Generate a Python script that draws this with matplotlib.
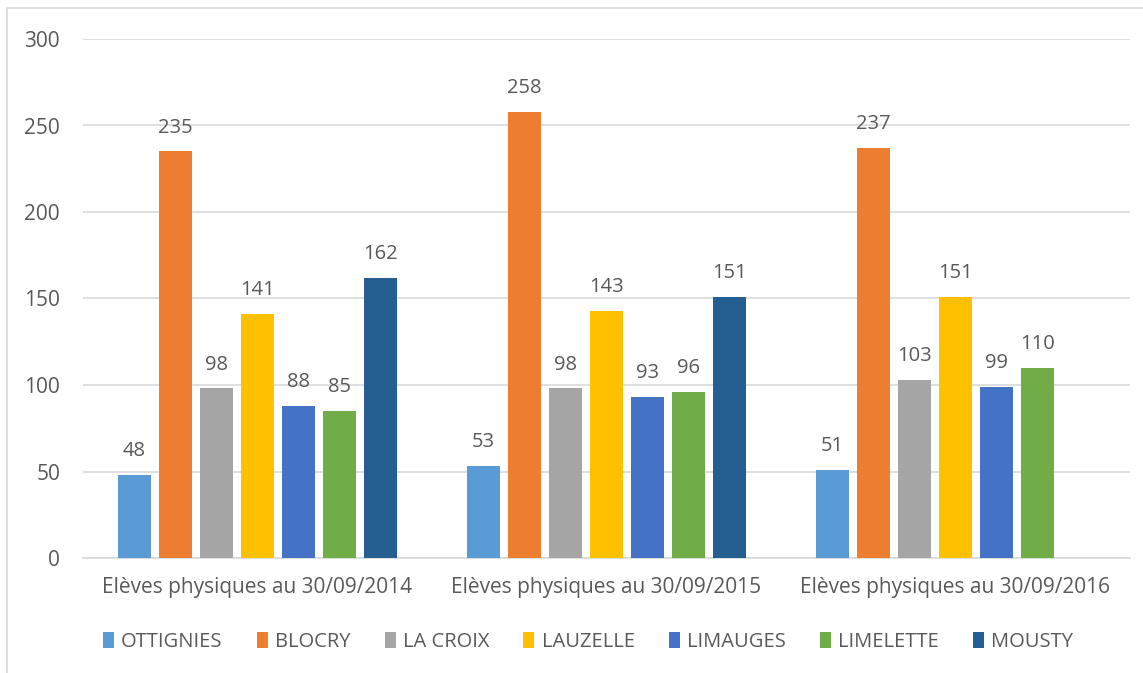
import matplotlib
matplotlib.use("Agg")
import matplotlib.pyplot as plt
import numpy as np
from matplotlib.patches import Patch

categories = ["Elèves physiques au 30/09/2014", "Elèves physiques au 30/09/2015", "Elèves physiques au 30/09/2016"]
series_names = ["OTTIGNIES", "BLOCRY", "LA CROIX", "LAUZELLE", "LIMAUGES", "LIMELETTE", "MOUSTY"]
ottignies = [48, 53, 51]
blocry = [235, 258, 237]
la_croix = [98, 98, 103]
lauzelle = [141, 143, 151]
limauges = [88, 93, 99]
limelette = [85, 96, 110]
mousty = [162, 151, None]
colors = ["#5B9BD5", "#ED7D31", "#A5A5A5", "#FFC000", "#4472C4", "#70AD47", "#255E91"]
yticks = [0, 50, 100, 150, 200, 250, 300]

all_series = [ottignies, blocry, la_croix, lauzelle, limauges, limelette, mousty]

plt.rcParams['font.family'] = ['Open Sans', 'DejaVu Sans']
txt = "#595959"

fig = plt.figure(figsize=(11.43, 6.73), dpi=100)
ax = fig.add_axes([83/1143, 1-558/673, (1130-83)/1143, (558-39)/673])

x = np.arange(len(categories))
step = 0.1175
width = 0.094
for i, (vals, c) in enumerate(zip(all_series, colors)):
    off = (i - 3) * step
    for j, v in enumerate(vals):
        if v is None:
            continue
        ax.bar(x[j] + off, v, width=width, color=c, zorder=3)
        ax.text(x[j] + off, v + 8, str(v), ha="center", va="bottom", fontsize=14.5, color=txt)

ax.set_xlim(-0.5, 2.5)
ax.set_ylim(0, 300)
ax.set_yticks(yticks)
ax.set_xticks(x)
ax.set_xticklabels(categories)
ax.tick_params(axis="both", length=0, labelsize=15, colors=txt)
ax.tick_params(axis="x", pad=14)
ax.tick_params(axis="y", pad=16.5)
ax.grid(axis="y", color="#D9D9D9", linewidth=1.2, zorder=0)
for s in ["top", "right", "left"]:
    ax.spines[s].set_visible(False)
ax.spines["bottom"].set_color("#D9D9D9")
ax.spines["bottom"].set_linewidth(1.2)

handles = [Patch(facecolor=c, label=n) for c, n in zip(colors, series_names)]
fig.legend(handles=handles, loc="center", bbox_to_anchor=(588/1143, 1-642/673), ncol=7,
           frameon=False, fontsize=14.5, handlelength=0.55, handleheight=0.85,
           handletextpad=0.35, columnspacing=1.7, labelcolor=txt)

# outer chart border
border = plt.Rectangle((7/1143, -0.05), 1.2, 1-8/673 + 0.05, transform=fig.transFigure,
                       fill=False, edgecolor="#D9D9D9", linewidth=1.2)
fig.patches.append(border)

fig.savefig("out.png", dpi=100)
